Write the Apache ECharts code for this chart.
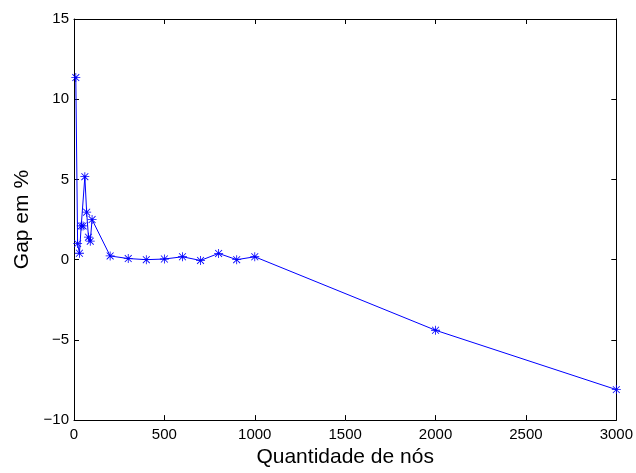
<!DOCTYPE html>
<html>
<head>
<meta charset="utf-8">
<script src="https://cdn.jsdelivr.net/npm/echarts@6/dist/echarts.min.js"></script>
<style>
  html, body { margin: 0; padding: 0; background: #fff; }
  #chart { width: 636px; height: 473px; }
</style>
</head>
<body>
<div id="chart"></div>
<script>
// Number of nodes in each instance
var nodes = [10, 20, 30, 40, 50, 60, 70, 80, 90, 100, 200, 300, 400, 500, 600, 700, 800, 900, 1000, 2000, 3000];
// Optimality gap (%) for each instance
var gapPercent = [11.35, 1.0, 0.4, 2.1, 2.1, 5.17, 2.96, 1.4, 1.15, 2.5, 0.23, 0.07, 0.0, 0.04, 0.18, -0.05, 0.39, 0.0, 0.18, -4.4, -8.1];

var xTitle = 'Quantidade de nós';
var yTitle = 'Gap em %';

// Asterisk marker built from four thin bars (+ and x)
var asterisk = 'path://M4.55 0L5.45 0L5.45 10L4.55 10Z' +
  'M0 4.55L10 4.55L10 5.45L0 5.45Z' +
  'M1.5 0.85L9.15 8.5L8.5 9.15L0.85 1.5Z' +
  'M8.5 0.85L9.15 1.5L1.5 9.15L0.85 8.5Z';

var points = nodes.map(function (n, i) { return [n, gapPercent[i]]; });

var font = 'Liberation Sans, Arial, Helvetica, sans-serif';
var axisLine = { show: true, onZero: false, lineStyle: { color: '#000', width: 1 } };
var ticks = { show: true, inside: true, length: 5, lineStyle: { color: '#000', width: 1 } };

var chart = echarts.init(document.getElementById('chart'), null, { renderer: 'canvas' });
chart.setOption({
  animation: false,
  backgroundColor: '#fff',
  grid: { left: 74, right: 19, top: 19, bottom: 49, containLabel: false },
  xAxis: [{
    type: 'value', min: 0, max: 3000, interval: 500, position: 'bottom',
    name: xTitle, nameLocation: 'middle', nameGap: 26,
    nameTextStyle: { fontFamily: font, fontSize: 21, color: '#000' },
    axisLine: axisLine, axisTick: ticks,
    axisLabel: {
      fontFamily: font, fontSize: 15, color: '#000', margin: 7,
      formatter: function (v) { return String(v); }
    },
    splitLine: { show: false }
  }, {
    type: 'value', min: 0, max: 3000, interval: 500, position: 'top',
    axisLine: axisLine, axisTick: ticks, axisLabel: { show: false }, splitLine: { show: false }
  }],
  yAxis: [{
    type: 'value', min: -10, max: 15, interval: 5, position: 'left',
    name: yTitle, nameLocation: 'middle', nameGap: 35, nameRotate: 90,
    nameTextStyle: { fontFamily: font, fontSize: 21, color: '#000' },
    axisLine: axisLine, axisTick: ticks,
    axisLabel: {
      fontFamily: font, fontSize: 15, color: '#000', margin: 5,
      formatter: function (v) { return v < 0 ? '\u2212' + Math.abs(v) : String(v); }
    },
    splitLine: { show: false }
  }, {
    type: 'value', min: -10, max: 15, interval: 5, position: 'right',
    axisLine: axisLine, axisTick: ticks, axisLabel: { show: false }, splitLine: { show: false }
  }],
  series: [{
    type: 'line',
    data: points,
    xAxisIndex: 0, yAxisIndex: 0,
    symbol: asterisk,
    symbolSize: 9,
    showAllSymbol: true,
    lineStyle: { color: '#0000ff', width: 1 },
    itemStyle: { color: '#0000ff' },
    emphasis: { disabled: true }
  }]
});
</script>
</body>
</html>
